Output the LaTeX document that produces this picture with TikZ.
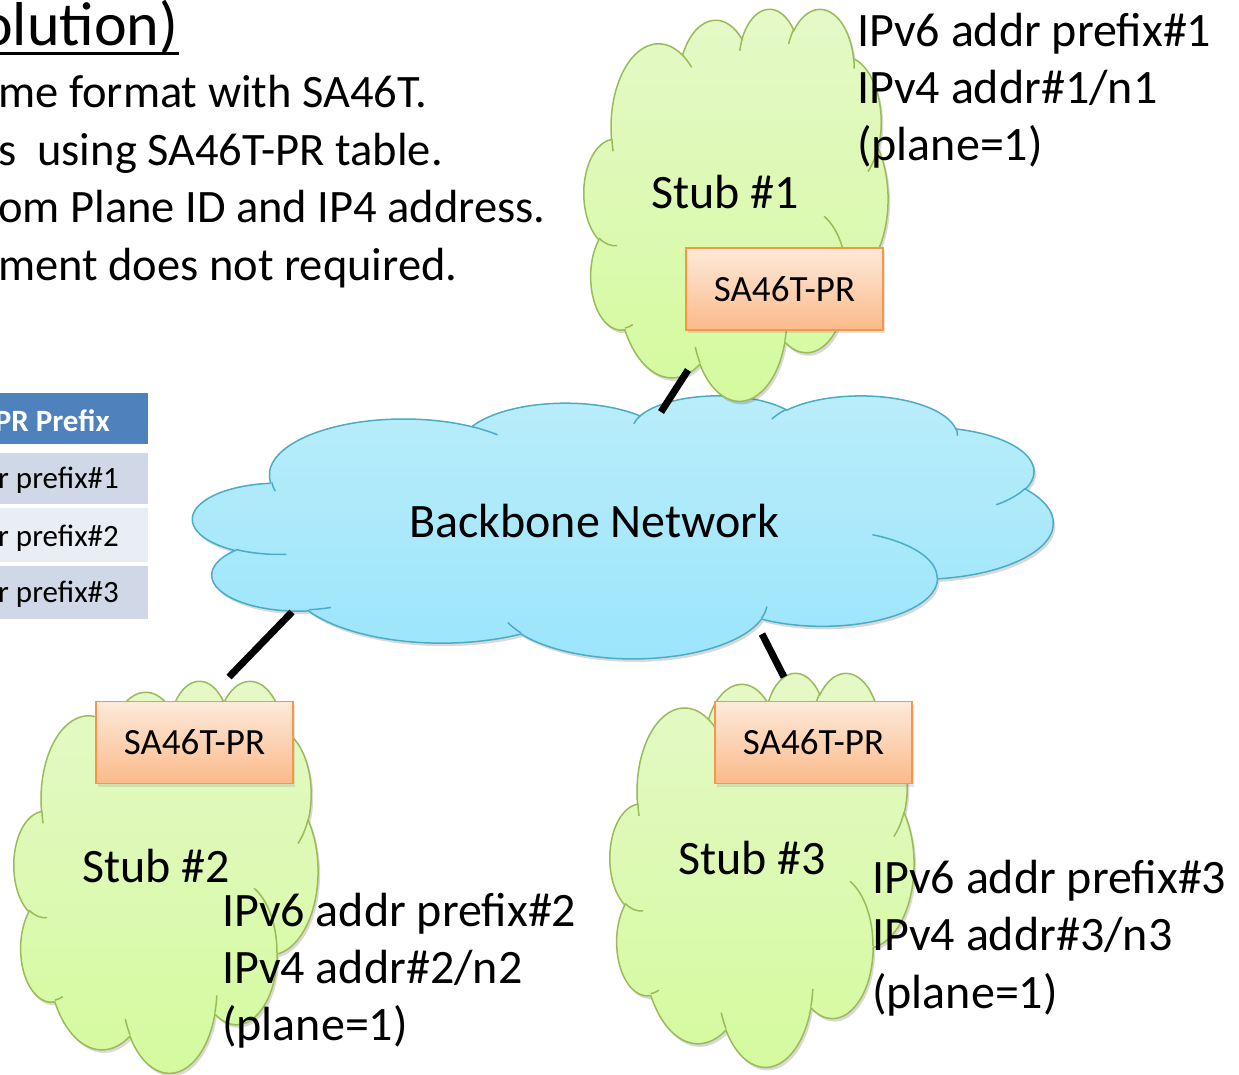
\documentclass[tikz,border=0pt]{standalone}
\usepackage{fontspec}
\setmainfont{Carlito}
\usetikzlibrary{shadows}
\definecolor{stubtop}{RGB}{229,249,200}
\definecolor{stubbot}{RGB}{212,250,157}
\definecolor{stubline}{RGB}{155,187,89}
\definecolor{bbtop}{RGB}{186,237,250}
\definecolor{bbbot}{RGB}{155,229,251}
\definecolor{bbline}{RGB}{75,172,198}
\definecolor{boxtop}{RGB}{253,234,218}
\definecolor{boxbot}{RGB}{251,186,138}
\definecolor{boxline}{RGB}{247,150,70}
\definecolor{hdr}{RGB}{79,129,189}
\definecolor{rowa}{RGB}{208,216,232}
\definecolor{rowb}{RGB}{233,237,244}

% DrawingML-style arcTo (visual angles -> parametric angles)
\newcommand\ooarc[4]{%
  \pgfextra{%
    \pgfmathsetmacro\oots{atan2((#1)*sin(#3),(#2)*cos(#3))}%
    \pgfmathsetmacro\ooter{atan2((#1)*sin((#3)+(#4)),(#2)*cos((#3)+(#4)))}%
    \pgfmathsetmacro\ood{\ooter-(\oots)}%
    \pgfmathsetmacro\oote{\oots+(\ood)+360*((\ood)<0)}%
  }%
  arc[x radius=#1, y radius=#2, start angle=\oots, end angle=\oote]}

\newcommand\cldoutline{(390,1437)
  \ooarc{675.3}{919.0}{-190.48748}{123.78053}
  \ooarc{533.3}{726.7}{-144.10238}{89.94523}
  \ooarc{436.5}{594.5}{-145.80792}{99.72302}
  \ooarc{485.7}{659.5}{-130.98607}{117.24173}
  \ooarc{533.3}{727.3}{-78.70888}{109.02692}
  \ooarc{677.5}{922.0}{-46.26725}{130.269}
  \ooarc{578.5}{786.7}{0.62502}{114.03333}
  \ooarc{675.2}{921.5}{22.4516}{115.17255}
  \ooarc{772.0}{1054.3}{66.24263}{75.71102}
  \ooarc{436.0}{591.8}{-274.94208}{146.73557}
  \ooarc{434.5}{594.5}{-246.8285}{152.51885} -- cycle}

\newcommand\cldinner{
  (469.3,2617.7) \ooarc{434.5}{594.5}{86.742}{26.4295}
  (692.8,3489.9) \ooarc{436.0}{591.8}{73.61047}{11.44747}
  (1647.8,3909.0) \ooarc{675.2}{921.5}{137.62415}{14.0811}
  (2882.7,3475.1) \ooarc{675.2}{921.5}{6.45327}{15.99835}
  (3412.9,2295.4) \ooarc{578.5}{786.7}{-70.29235}{70.91737}
  (4179.8,1535.4) \ooarc{533.3}{727.3}{30.31803}{27.7515}
  (3832.4,542.6) \ooarc{485.7}{659.5}{-13.74433}{14.8589}
  (2907.8,395.2) \ooarc{485.7}{659.5}{-149.18145}{18.19537}
  (2214.1,472.0) \ooarc{436.5}{594.5}{-163.49427}{17.68635}
  (1400.0,519.2) \ooarc{675.3}{919.0}{-66.70695}{12.31935}
  (412.7,1578.9) \ooarc{675.3}{919.0}{162.03617}{11.85288}}

% name, x0, y0, w, h, kind (stub/bb)
\newcommand\ppcloud[6]{%
  \pgfmathsetmacro\cldx{#4/4320}\pgfmathsetmacro\cldy{#5/4320}%
  \begin{scope}[shift={(#2,#3)}, x=\cldx pt, y=-\cldy pt]
    \fill[black,opacity=.15,xshift=2pt,yshift=-3pt] \cldoutline;
    \path[#6 fill] \cldoutline;
    \draw[#6 line] \cldinner;
    \coordinate (#1) at (2160,2160);
  \end{scope}}

\tikzset{
  stub fill/.style={top color=stubtop, bottom color=stubbot, draw=stubline, line width=1.5pt},
  stub line/.style={draw=stubline, line width=1.5pt},
  bb fill/.style={top color=bbtop, bottom color=bbbot, draw=bbline, line width=1.5pt},
  bb line/.style={draw=bbline, line width=1.5pt},
  txt/.style={font=\fontsize{48}{58}\selectfont, inner sep=0pt, anchor=base west},
  bodytxt/.style={txt, font=\fontsize{46.5}{56}\selectfont},
  tabtxt/.style={font=\fontsize{31}{37}\selectfont, inner sep=0pt, anchor=base east},
  cell/.style={rectangle, inner sep=0pt, minimum width=150pt, anchor=north west},
  prbox/.style={rectangle, minimum width=197pt, minimum height=82pt, inner sep=0pt,
    top color=boxtop, bottom color=boxbot, draw=boxline, line width=1.5pt,
    font=\fontsize{37}{44}\selectfont,
    drop shadow={opacity=.2, shadow xshift=2pt, shadow yshift=-3pt}},
  link/.style={line width=7pt, black}
}

\begin{document}
\begin{tikzpicture}[x=1pt, y=-1pt]
\fill[white] (0,0) rectangle (1239,1074);
\useasboundingbox (0,0) rectangle (1239,1074);

% title and bullet text (cut at left edge)
\node[txt, font=\fontsize{62}{74}\selectfont] (title) at (-20,45) {olution)};
\draw[line width=3pt] ([yshift=-8pt]title.base west) -- ([yshift=-8pt]title.base east);
\node[bodytxt] (l1) at (-2,107) {me format with SA46T.};
\node[bodytxt] (l2) at (-2,165) {s\ \ using SA46T-PR table.};
\node[bodytxt] (l3) at (-2,222) {om Plane ID and IP4 address.};
\node[bodytxt] (l4) at (-2,280) {ment does not required.};

% table
\node[cell, fill=hdr, minimum height=51pt] (th) at (-2,393) {};
\node[cell, fill=rowa, minimum height=51pt] (tr1) at (-2,453) {};
\node[cell, fill=rowb, minimum height=54pt] (tr2) at (-2,508) {};
\node[cell, fill=rowa, minimum height=53pt] (tr3) at (-2,566) {};
\node[tabtxt, white, font=\fontsize{31}{37}\selectfont\bfseries] (tht) at (110,431) {PR Prefix};
\node[tabtxt] (tr1t) at (119,488) {r prefix\#1};
\node[tabtxt] (tr2t) at (119,546) {r prefix\#2};
\node[tabtxt] (tr3t) at (119,602) {r prefix\#3};

% clouds
\ppcloud{bb}{193}{395}{860}{263}{bb}
\ppcloud{s1}{584}{8}{304}{392}{stub}
\ppcloud{s2}{14}{680}{304}{392}{stub}
\ppcloud{s3}{610}{672}{304}{394}{stub}

% connectors
\coordinate (s1link) at (688,370);
\coordinate (bblink1) at (661,412);
\coordinate (bblink2) at (292,612);
\coordinate (s2link) at (229,677);
\coordinate (bblink3) at (762,634);
\coordinate (s3link) at (784,677);
\draw[link] (s1link) -- (bblink1);
\draw[link] (bblink2) -- (s2link);
\draw[link] (bblink3) -- (s3link);

% SA46T-PR boxes
\node[prbox] (pr1) at (784.5,289) {SA46T-PR};
\node[prbox] (pr2) at (194.5,742.5) {SA46T-PR};
\node[prbox] (pr3) at (813.5,742.5) {SA46T-PR};

% labels
\node[txt] (bbt) at (409,537) {Backbone Network};
\node[txt] (s1t) at (651,208) {Stub \#1};
\node[txt] (s2t) at (82,882) {Stub \#2};
\node[txt] (s3t) at (678,874) {Stub \#3};

\node[txt] (a1) at (857,46) {IPv6 addr prefix\#1};
\node[txt] (b1) at (857,103) {IPv4 addr\#1/n1};
\node[txt] (c1) at (857,160) {(plane=1)};

\node[txt] (a2) at (222,926) {IPv6 addr prefix\#2};
\node[txt] (b2) at (222,983) {IPv4 addr\#2/n2};
\node[txt] (c2) at (222,1040) {(plane=1)};

\node[txt] (a3) at (872,893) {IPv6 addr prefix\#3};
\node[txt] (b3) at (872,950) {IPv4 addr\#3/n3};
\node[txt] (c3) at (872,1008) {(plane=1)};
\end{tikzpicture}
\end{document}
